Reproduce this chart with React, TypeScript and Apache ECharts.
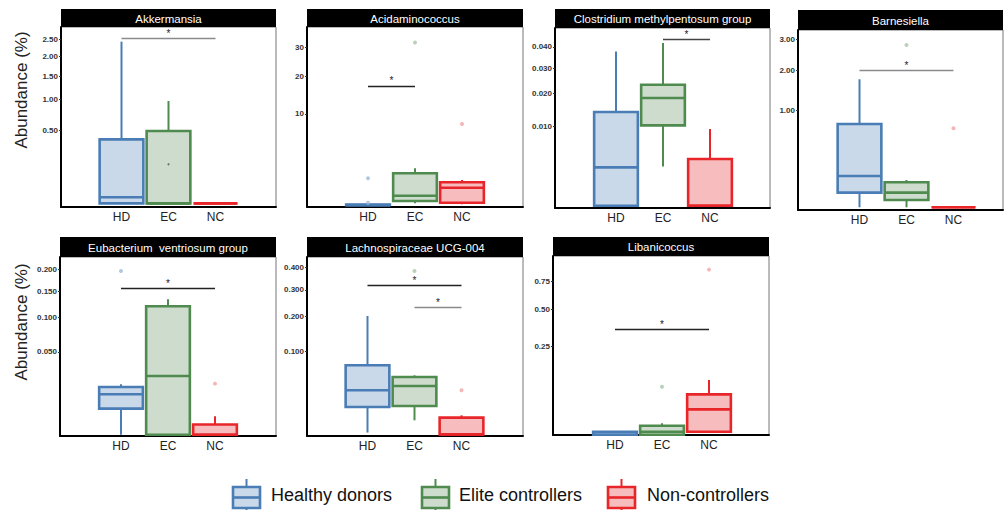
import React, { useEffect, useRef } from 'react';
import * as echarts from 'echarts';

// ---------- data ----------
const groups = ['HD', 'EC', 'NC'];
const groupNames = ['Healthy donors', 'Elite controllers', 'Non-controllers'];
const panelTitles = [
  'Akkermansia',
  'Acidaminococcus',
  'Clostridium methylpentosum group',
  'Barnesiella',
  'Eubacterium  ventriosum group',
  'Lachnospiraceae UCG-004',
  'Libanicoccus',
];

// box stats per group: [min, Q1, median, Q3, max]  (abundance %)
const akkermansiaStats = [[0, 0, 0.0035, 0.381, 2.43], [0, 0, 0, 0.486, 0.974], [0, 0, 0, 0, 0]];
const acidaminococcusStats = [[0, 0, 0, 0.0005, 0.001], [0.004, 0.02, 0.106, 1.22, 1.63], [0.001, 0.007, 0.365, 0.625, 0.76]];
const clostridiumStats = [[0, 0, 0.00234, 0.01395, 0.0378], [0.00246, 0.01026, 0.01843, 0.02326, 0.042], [0, 0, 0, 0.00347, 0.00935]];
const barnesiellaStats = [[0, 0.0227, 0.104, 0.738, 1.742], [0, 0.0057, 0.0227, 0.0664, 0.079], [0, 0, 0, 0, 0]];
const eubacteriumStats = [[0, 0.00498, 0.01193, 0.01664, 0.01857], [0, 0, 0.0252, 0.1205, 0.134], [0, 0, 0, 0.00075, 0.00247]];
const lachnoStats = [[0.00005, 0.0108, 0.02797, 0.0687, 0.2016], [0.00286, 0.0116, 0.0337, 0.0474, 0.0502], [0, 0, 0, 0.00406, 0.00525]];
const libanicoccusStats = [[0, 0, 0, 0.0003, 0.0003], [0, 0, 0.0003, 0.0026, 0.0042], [0.0003, 0.0003, 0.0206, 0.052, 0.0952]];

// outliers: [groupIndex, value]
const akkermansiaOut = [[1, 0.142]];
const acidaminococcusOut = [[0, 0.87], [0, 0.007], [1, 31.8], [2, 7.92]];
const clostridiumOut: number[][] = [];
const barnesiellaOut = [[1, 2.8], [2, 0.663]];
const eubacteriumOut = [[0, 0.1959], [2, 0.01906]];
const lachnoOut = [[1, 0.384], [2, 0.028]];
const libanicoccusOut = [[1, 0.0733], [2, 0.868]];

// tick values
const akkermansiaTicks = [0.5, 1, 1.5, 2, 2.5];
const acidaminococcusTicks = [10, 20, 30];
const clostridiumTicks = [0.01, 0.02, 0.03, 0.04];
const barnesiellaTicks = [1, 2, 3];
const eubacteriumTicks = [0.05, 0.1, 0.15, 0.2];
const lachnoTicks = [0.1, 0.2, 0.3, 0.4];
const libanicoccusTicks = [0.25, 0.5, 0.75];
const tickDecimals = [2, 0, 3, 2, 3, 3, 2];

// significance brackets: [fromGroup, toGroup, value, colour]
const akkermansiaSig = [[0, 2, 2.52, '#8a8a8a']];
const acidaminococcusSig = [[0, 1, 17.09, '#222']];
const clostridiumSig = [[1, 2, 0.0441, '#444']];
const barnesiellaSig = [[0, 2, 1.983, '#8a8a8a']];
const eubacteriumSig = [[0, 2, 0.156, '#222']];
const lachnoSig = [[0, 2, 0.3184, '#222'], [1, 2, 0.2334, '#8a8a8a']];
const libanicoccusSig = [[0, 2, 0.353, '#222']];

// axis limits in sqrt space
const axisLimits = [[-0.035, 1.70], [-0.056, 6.18], [-0.0028, 0.2239], [-0.028, 1.828], [-0.0035, 0.4804], [-0.006, 0.6727], [-0.001, 1.0084]];

const allStats = [akkermansiaStats, acidaminococcusStats, clostridiumStats, barnesiellaStats, eubacteriumStats, lachnoStats, libanicoccusStats];
const allOut = [akkermansiaOut, acidaminococcusOut, clostridiumOut, barnesiellaOut, eubacteriumOut, lachnoOut, libanicoccusOut];
const allTicks = [akkermansiaTicks, acidaminococcusTicks, clostridiumTicks, barnesiellaTicks, eubacteriumTicks, lachnoTicks, libanicoccusTicks];
const allSig = [akkermansiaSig, acidaminococcusSig, clostridiumSig, barnesiellaSig, eubacteriumSig, lachnoSig, libanicoccusSig];

// ---------- layout ----------
// [left, right, titleTop, plotTop, plotBottom, HD centre]
const layout = [
  [61, 276, 9, 27, 207, 121.5],
  [307, 523, 9, 27, 206.7, 368],
  [555, 770, 9, 28, 208, 616],
  [798, 1003, 10, 30, 210, 859.5],
  [60, 276, 237, 257, 436, 121],
  [307, 523, 237, 257, 436, 367.5],
  [553, 769, 237, 256, 435, 615],
];
const band = 47;

const borderColors = ['#4a7db5', '#4f8a4f', '#e8262a'];
const fillColors = ['#c9d9ea', '#cddccd', '#f7bcbd'];
const outlierColors = ['#9fbadb', '#a9c6a9', '#f4a3a5'];
const FONT = 'Liberation Sans, Arial, sans-serif';

function buildOption() {
  const grid: any[] = [];
  const xAxis: any[] = [];
  const yAxis: any[] = [];
  const series: any[] = [];
  const graphic: any[] = [];

  layout.forEach((L, k) => {
    const [left, right, titleTop, plotTop, plotBottom, hd] = L;
    const h = plotBottom - plotTop;
    const dLeft = hd - band / 2;
    // frame grid
    grid.push({ left, top: plotTop, width: right - left, height: h, show: true, borderColor: '#777', borderWidth: 1 });
    xAxis.push({ gridIndex: 2 * k, type: 'value', min: 0, max: 1, axisLine: { show: true, lineStyle: { color: '#000', width: 2 } }, axisTick: { show: false }, axisLabel: { show: false }, splitLine: { show: false } });
    yAxis.push({ gridIndex: 2 * k, type: 'value', min: 0, max: 1, axisLine: { show: true, lineStyle: { color: '#000', width: 2 } }, axisTick: { show: false }, axisLabel: { show: false }, splitLine: { show: false } });
    // data grid
    grid.push({ left: dLeft, top: plotTop, width: band * 3, height: h });
    const ticks = allTicks[k];
    const sq = ticks.map((t) => Math.sqrt(t));
    xAxis.push({ gridIndex: 2 * k + 1, type: 'category', data: groups, axisLine: { show: false }, axisTick: { show: false }, axisLabel: { fontSize: 12, color: '#222', margin: 4, fontFamily: FONT } });
    yAxis.push({
      gridIndex: 2 * k + 1, type: 'value', min: axisLimits[k][0], max: axisLimits[k][1], offset: dLeft - left,
      axisLine: { show: false },
      axisTick: { show: true, length: 2, customValues: sq, lineStyle: { color: '#333' } },
      axisLabel: {
        customValues: sq, fontSize: 8, fontWeight: 'bold', color: '#333', margin: 3, fontFamily: FONT,
        formatter: (v: number) => {
          const i = sq.findIndex((s) => Math.abs(s - v) < 1e-6);
          return i >= 0 ? ticks[i].toFixed(tickDecimals[k]) : '';
        },
      },
      splitLine: { show: false },
    });

    const boxData = allStats[k].map((s, gi) => [gi, ...s.map((v) => Math.sqrt(v)), gi]);
    series.push({
      type: 'custom', xAxisIndex: 2 * k + 1, yAxisIndex: 2 * k + 1,
      encode: { x: 0, y: [1, 2, 3, 4, 5] },
      data: boxData,
      renderItem: (params: any, api: any) => {
        const x = api.value(0);
        const g = api.value(6);
        const p = [1, 2, 3, 4, 5].map((i) => api.coord([x, api.value(i)]));
        const cx = p[0][0];
        const hw = api.size([1, 0])[0] * 0.465;
        const stroke = borderColors[g];
        return {
          type: 'group',
          children: [
            { type: 'line', shape: { x1: cx, y1: p[4][1], x2: cx, y2: p[3][1] }, style: { stroke, lineWidth: 2 } },
            { type: 'line', shape: { x1: cx, y1: p[1][1], x2: cx, y2: p[0][1] }, style: { stroke, lineWidth: 2 } },
            { type: 'rect', shape: { x: cx - hw, y: p[3][1], width: 2 * hw, height: p[1][1] - p[3][1] }, style: { fill: fillColors[g], stroke, lineWidth: 2.6 } },
            { type: 'line', shape: { x1: cx - hw, y1: p[2][1], x2: cx + hw, y2: p[2][1] }, style: { stroke, lineWidth: 2.6 } },
          ],
        };
      },
      silent: true,
    });

    series.push({
      type: 'scatter', xAxisIndex: 2 * k + 1, yAxisIndex: 2 * k + 1,
      symbolSize: 4, silent: true, z: 5,
      data: allOut[k].map(([gi, v]) => ({
        value: [gi, Math.sqrt(v)],
        itemStyle: { color: k === 0 ? '#555' : outlierColors[gi] },
        symbolSize: k === 0 ? 2 : 4,
      })),
      markLine: {
        silent: true, symbol: ['none', 'none'], animation: false,
        data: allSig[k].map(([a, b, v, c]: any) => [
          {
            coord: [a, Math.sqrt(v)],
            lineStyle: { color: c, width: 1.3, type: 'solid' },
            label: { show: true, position: 'middle', formatter: '*', fontSize: 10, color: '#1a1a2a', distance: 0 },
          },
          { coord: [b, Math.sqrt(v)] },
        ]),
        label: { show: true, position: 'middle', formatter: '*', fontSize: 10, color: '#1a1a2a', distance: 0 },
      },
    });

    // title bar
    graphic.push({ type: 'rect', silent: true, shape: { x: left, y: titleTop, width: right - left, height: plotTop - titleTop }, style: { fill: '#000' } });
    graphic.push({
      type: 'text', silent: true, x: (left + right) / 2, y: (titleTop + plotTop) / 2 + 0.5,
      style: { text: panelTitles[k], fill: '#fff', fontSize: 11.5, fontFamily: FONT, align: 'center', verticalAlign: 'middle', textAlign: 'center', textVerticalAlign: 'middle' },
    });
  });

  // y axis titles
  [90, 322].forEach((cy) => {
    graphic.push({
      type: 'text', silent: true, x: 21, y: cy, rotation: Math.PI / 2,
      style: { text: 'Abundance (%)', fill: '#222', fontSize: 17, fontFamily: FONT, align: 'center', verticalAlign: 'middle', textAlign: 'center', textVerticalAlign: 'middle' },
    });
  });

  // legend
  const iconX = [233, 422, 608];
  const textX = [271, 459, 647];
  groupNames.forEach((name, i) => {
    const x = iconX[i];
    const w = 27;
    const cx = x + w / 2;
    graphic.push({ type: 'line', silent: true, shape: { x1: cx, y1: 479, x2: cx, y2: 512 }, style: { stroke: borderColors[i], lineWidth: 2 } });
    graphic.push({ type: 'rect', silent: true, shape: { x, y: 487, width: w, height: 21 }, style: { fill: fillColors[i], stroke: borderColors[i], lineWidth: 2.6 } });
    graphic.push({ type: 'line', silent: true, shape: { x1: x, y1: 497.5, x2: x + w, y2: 497.5 }, style: { stroke: borderColors[i], lineWidth: 2.6 } });
    graphic.push({
      type: 'text', silent: true, x: textX[i], y: 495,
      style: { text: name, fill: '#111', fontSize: 18, fontFamily: FONT, align: 'left', verticalAlign: 'middle', textAlign: 'left', textVerticalAlign: 'middle' },
    });
  });

  return {
    animation: false,
    backgroundColor: '#fff',
    textStyle: { fontFamily: FONT },
    grid, xAxis, yAxis, series, graphic,
  };
}

export default function App() {
  const ref = useRef<HTMLDivElement>(null);
  useEffect(() => {
    document.body.style.margin = '0';
    const chart = echarts.init(ref.current as HTMLDivElement, null, { renderer: 'svg' });
    chart.setOption(buildOption() as any);
    return () => chart.dispose();
  }, []);
  return <div ref={ref} style={{ width: 1005, height: 510 }} />;
}
